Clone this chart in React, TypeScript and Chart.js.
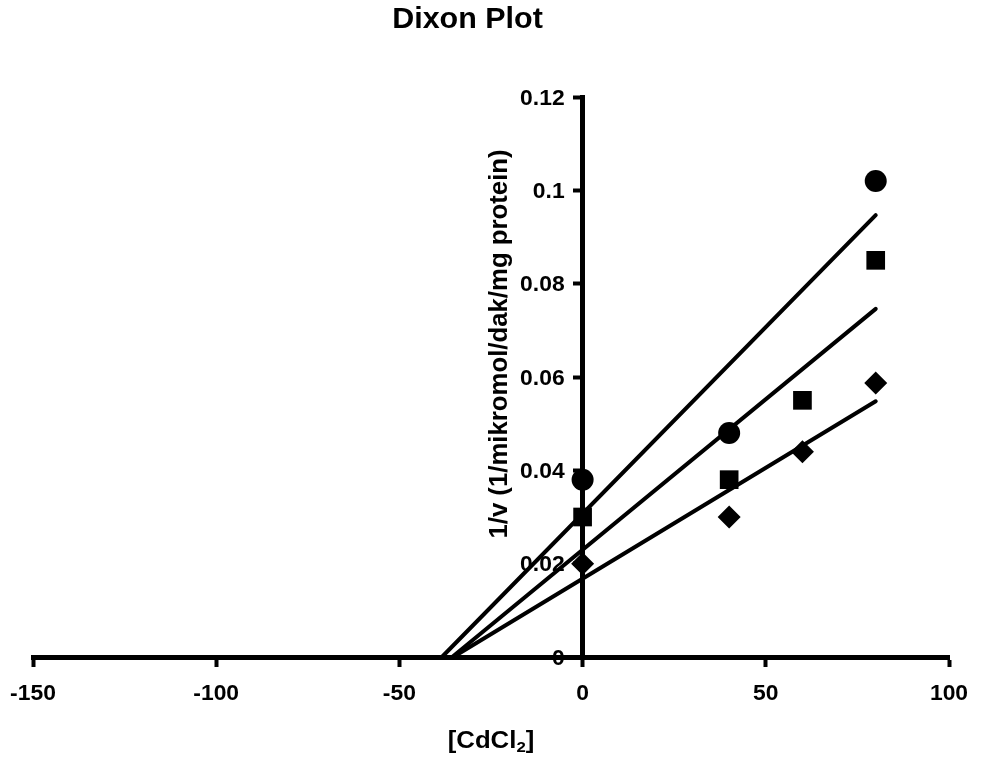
import React, { useEffect, useRef } from "react";
import { Chart, registerables } from "chart.js";

Chart.register(...registerables);

// ---- data ----
const X_TICKS = [-150, -100, -50, 0, 50, 100];
const Y_TICKS = [0, 0.02, 0.04, 0.06, 0.08, 0.1, 0.12];

const CIRCLE_X = [0, 40, 80];
const CIRCLE_Y = [0.038, 0.048, 0.102];
const SQUARE_X = [0, 40, 60, 80];
const SQUARE_Y = [0.03, 0.038, 0.055, 0.085];
const DIAMOND_X = [0, 40, 60, 80];
const DIAMOND_Y = [0.02, 0.03, 0.044, 0.0587];

// regression lines: start at x-intercept (y = 0), end at highest concentration
const FIT_START_X = [-38.4, -35.6, -35.3];
const FIT_END_X = [80, 80, 80];
const FIT_END_Y = [0.0947, 0.0746, 0.0548];

const TITLE = "Dixon Plot";
const X_TITLE_MAIN = "[CdCl";
const X_TITLE_SUB = "2";
const X_TITLE_END = "]";
const Y_TITLE = "1/v (1/mikromol/dak/mg protein)";

const FONT_FAMILY = "'Liberation Sans', Arial, Helvetica, sans-serif";

const pts = (xs: number[], ys: number[]) => xs.map((x, i) => ({ x, y: ys[i] }));

const drawScaledText = (
  ctx: CanvasRenderingContext2D,
  text: string,
  x: number,
  y: number,
  sx: number,
  align: "left" | "right" | "center"
) => {
  ctx.save();
  ctx.translate(x, y);
  ctx.scale(sx, 1);
  ctx.textAlign = align;
  ctx.fillText(text, 0, 0);
  ctx.restore();
};

const tickLabelPlugin = {
  id: "tickLabels",
  beforeDatasetsDraw(chart: any) {
    const { ctx } = chart;
    const xs = chart.scales.x;
    const ys = chart.scales.y;
    const x0 = xs.getPixelForValue(0);
    const y0 = ys.getPixelForValue(0);
    ctx.save();
    ctx.fillStyle = "#000";
    ctx.font = `bold 22px ${FONT_FAMILY}`;
    ctx.textBaseline = "alphabetic";
    X_TICKS.forEach((v) => {
      drawScaledText(ctx, String(v), xs.getPixelForValue(v), y0 + 43, 1.04, "center");
    });
    Y_TICKS.forEach((v) => {
      drawScaledText(ctx, String(v), x0 - 18, ys.getPixelForValue(v) + 7.8, 1.04, "right");
    });
    ctx.restore();
  },
};

const titlesPlugin = {
  id: "customTitles",
  afterDraw(chart: any) {
    const { ctx, chartArea } = chart;
    const xs = chart.scales.x;
    ctx.save();
    ctx.fillStyle = "#000";
    ctx.textBaseline = "alphabetic";
    // main title
    ctx.font = `bold 29px ${FONT_FAMILY}`;
    drawScaledText(ctx, TITLE, 467.5, 28, 1.05, "center");

    // x title with subscript
    const cx = (chartArea.left + chartArea.right) / 2;
    const base = chartArea.bottom + 91;
    const mainFont = `bold 23px ${FONT_FAMILY}`;
    const subFont = `bold 15px ${FONT_FAMILY}`;
    ctx.font = mainFont;
    const w1 = ctx.measureText(X_TITLE_MAIN).width;
    const w3 = ctx.measureText(X_TITLE_END).width;
    ctx.font = subFont;
    const w2 = ctx.measureText(X_TITLE_SUB).width;
    const sx = 1.12;
    const total = (w1 + w2 + w3) * sx;
    ctx.translate(cx - total / 2, base);
    ctx.scale(sx, 1);
    ctx.textAlign = "left";
    ctx.font = mainFont;
    ctx.fillText(X_TITLE_MAIN, 0, 0);
    ctx.font = subFont;
    ctx.fillText(X_TITLE_SUB, w1, 4);
    ctx.font = mainFont;
    ctx.fillText(X_TITLE_END, w1 + w2, 0);
    ctx.restore();

    // y title rotated
    ctx.save();
    ctx.fillStyle = "#000";
    const yx = xs.getPixelForValue(0) - 82;
    const yy = chartArea.top + 247;
    ctx.translate(yx, yy);
    ctx.rotate(-Math.PI / 2);
    ctx.scale(1.03, 1);
    ctx.font = `bold 25px ${FONT_FAMILY}`;
    ctx.textAlign = "center";
    ctx.textBaseline = "middle";
    ctx.fillText(Y_TITLE, 0, 0);
    ctx.restore();
  },
};

export default function App() {
  const ref = useRef<HTMLCanvasElement | null>(null);

  useEffect(() => {
    if (!ref.current) return;
    const lineDs = FIT_START_X.map((sx, i) => ({
      type: "line" as const,
      data: [
        { x: sx, y: 0 },
        { x: FIT_END_X[i], y: FIT_END_Y[i] },
      ],
      borderColor: "#000",
      borderWidth: 4,
      borderCapStyle: "round" as const,
      pointRadius: 0,
      fill: false,
      clip: false as any,
      order: 2,
    }));
    const markerDs = [
      { data: pts(CIRCLE_X, CIRCLE_Y), pointStyle: "circle", pointRadius: 11 },
      { data: pts(SQUARE_X, SQUARE_Y), pointStyle: "rect", pointRadius: 13.2 },
      { data: pts(DIAMOND_X, DIAMOND_Y), pointStyle: "rectRot", pointRadius: 11.5 },
    ].map((d) => ({
      type: "scatter" as const,
      ...d,
      showLine: false,
      backgroundColor: "#000",
      borderColor: "#000",
      borderWidth: 0,
      clip: false as any,
      order: 1,
    }));

    const gridOpts = {
      drawOnChartArea: false,
      drawTicks: true,
      tickLength: 7,
      tickWidth: 4,
      tickColor: "#000",
    };

    const chart = new Chart(ref.current, {
      type: "scatter",
      data: { datasets: [...lineDs, ...markerDs] as any },
      options: {
        responsive: false,
        animation: false,
        events: [],
        layout: { padding: { left: 33, right: 32, top: 97, bottom: 106 } },
        plugins: {
          legend: { display: false },
          tooltip: { enabled: false },
          title: { display: false },
        },
        scales: {
          x: {
            type: "linear",
            position: { y: 0 } as any,
            min: -150,
            max: 100,
            afterBuildTicks: (s: any) => {
              s.ticks = X_TICKS.map((v) => ({ value: v }));
            },
            ticks: { display: false, autoSkip: false },
            grid: gridOpts,
            border: { display: true, color: "#000", width: 5 },
          },
          y: {
            type: "linear",
            position: { x: 0 } as any,
            min: 0,
            max: 0.12,
            afterBuildTicks: (s: any) => {
              s.ticks = Y_TICKS.map((v) => ({ value: v }));
            },
            ticks: { display: false, autoSkip: false },
            grid: gridOpts,
            border: { display: true, color: "#000", width: 5 },
          },
        },
      },
      plugins: [tickLabelPlugin, titlesPlugin],
    });
    return () => chart.destroy();
  }, []);

  return (
    <canvas
      ref={ref}
      width={981}
      height={763}
      style={{ position: "absolute", left: 0, top: 0, display: "block" }}
    />
  );
}
